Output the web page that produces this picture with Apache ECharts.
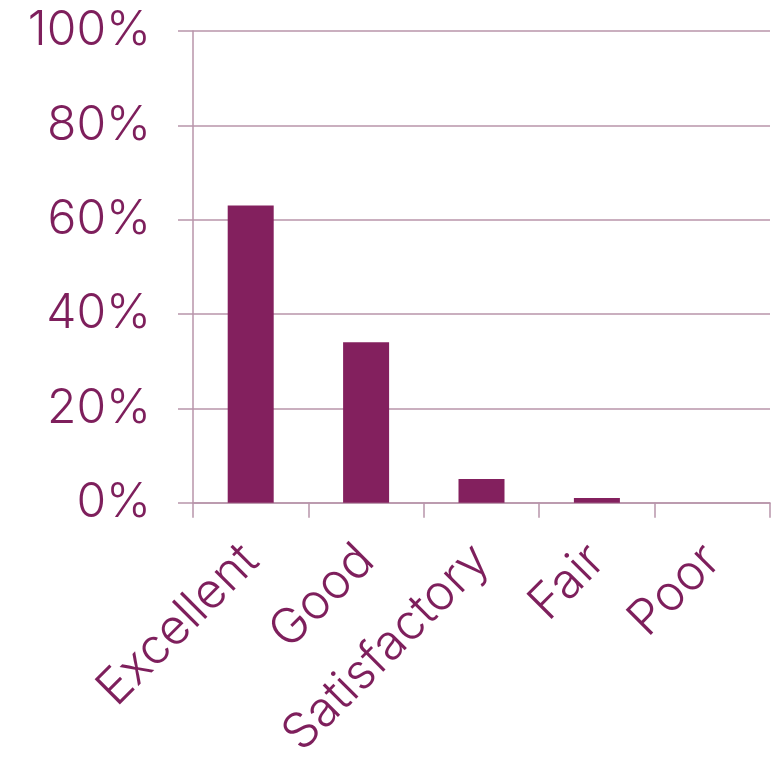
<!DOCTYPE html>
<html>
<head>
<meta charset="utf-8">
<script src="https://cdn.jsdelivr.net/npm/echarts@6/dist/echarts.min.js"></script>
<style>
  html, body { margin: 0; padding: 0; background: #fff; }
  #chart { width: 773px; height: 762px; }
</style>
</head>
<body>
<div id="chart"></div>
<script>
const categories = ['Excellent', 'Good', 'Satisfactory', 'Fair', 'Poor'];
const ratingShare = [63, 34, 5, 1, 0];
const yTicks = [0, 20, 40, 60, 80, 100];

(function () {
    const chart = echarts.init(document.getElementById('chart'));
    const barColor = '#83205e';
    const textColor = '#7e1f5c';
    const lineColor = '#b895aa';
    const option = {
        animation: false,
        grid: { left: 193, right: 3, top: 31, bottom: 259, containLabel: false },
        xAxis: {
            type: 'category',
            data: categories,
            axisLine: { show: true, lineStyle: { color: lineColor, width: 1.5 } },
            axisTick: { show: true, length: 15, lineStyle: { color: lineColor, width: 1.5 } },
            axisLabel: {
                rotate: 45,
                margin: 50,
                color: textColor,
                fontSize: 49,
                fontFamily: 'Inter',
                fontWeight: 300
            }
        },
        yAxis: {
            type: 'value',
            min: yTicks[0],
            max: yTicks[yTicks.length - 1],
            interval: 20,
            axisLine: { show: true, lineStyle: { color: lineColor, width: 1.5 } },
            axisTick: { show: true, length: 15, lineStyle: { color: lineColor, width: 1.5 } },
            splitLine: { show: true, lineStyle: { color: lineColor, width: 1.5 } },
            axisLabel: {
                margin: 42,
                color: textColor,
                fontSize: 48,
                fontFamily: 'Inter',
                fontWeight: 300,
                formatter: function (v) { return v + '%'; }
            }
        },
        series: [{
            type: 'bar',
            data: ratingShare,
            barWidth: 46,
            itemStyle: { color: barColor }
        }]
    };
    chart.setOption(option);
})();
</script>
</body>
</html>
